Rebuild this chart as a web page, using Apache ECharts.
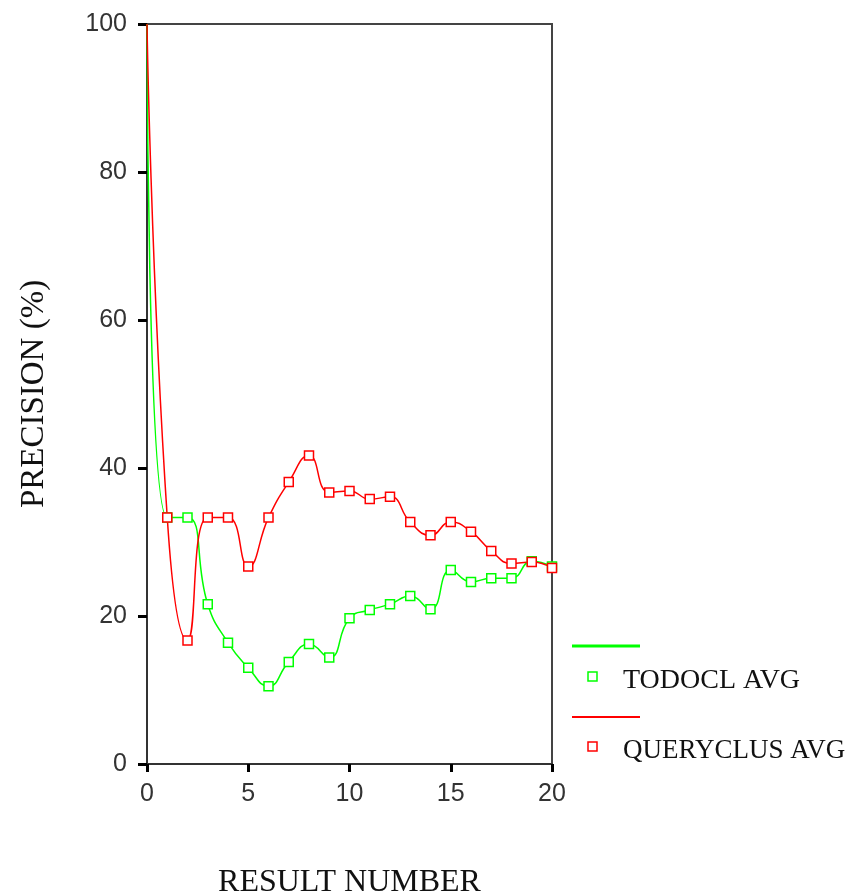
<!DOCTYPE html>
<html>
<head>
<meta charset="utf-8">
<script src="https://cdn.jsdelivr.net/npm/echarts@6/dist/echarts.min.js"></script>
<style>
  html, body { margin: 0; padding: 0; background: #fff; }
  #chart { width: 853px; height: 892px; }
</style>
</head>
<body>
<div id="chart"></div>
<script>
// values
const resultNumber = [0, 1, 2, 3, 4, 5, 6, 7, 8, 9, 10, 11, 12, 13, 14, 15, 16, 17, 18, 19, 20];
const todoclAvg = [100, 33.3, 33.3, 21.6, 16.4, 13.0, 10.5, 13.8, 16.2, 14.4, 19.7, 20.8, 21.6, 22.7, 20.9, 26.2, 24.6, 25.1, 25.1, 27.4, 26.7];
const queryclusAvg = [100, 33.3, 16.7, 33.3, 33.3, 26.7, 33.3, 38.1, 41.7, 36.7, 36.9, 35.8, 36.1, 32.7, 30.9, 32.7, 31.4, 28.8, 27.1, 27.3, 26.5];
const xTicks = [0, 5, 10, 15, 20];
const yTicks = [0, 20, 40, 60, 80, 100];
const seriesNames = ["TODOCL AVG", "QUERYCLUS AVG"];

const GREEN = "#00ff00";
const RED = "#ff0000";
const serif = "'Liberation Serif', 'DejaVu Serif', serif";
const sans = "'Liberation Sans', Arial, sans-serif";

// no marker at result 0 (it sits on the frame corner)
function toPoints(values) {
  return resultNumber.map(function (x, i) {
    if (i === 0) return { value: [x, values[i]], symbol: "none" };
    return [x, values[i]];
  });
}

function lineSeries(name, values, color) {
  return {
    name: name,
    type: "line",
    data: toPoints(values),
    smooth: 0.5,
    symbol: "rect",
    symbolSize: 9,
    lineStyle: { color: color, width: 1.5 },
    itemStyle: { color: "#fff", borderColor: color, borderWidth: 1.5 },
    emphasis: { disabled: true },
  };
}

const chart = echarts.init(document.getElementById("chart"));

const option = {
  animation: false,
  grid: {
    left: 147,
    top: 24,
    width: 405,
    height: 740,
    show: true,
    borderColor: "#444",
    borderWidth: 2,
    outerBoundsMode: "none",
  },
  xAxis: {
    type: "value",
    min: xTicks[0],
    max: xTicks[xTicks.length - 1],
    interval: 5,
    name: "RESULT NUMBER",
    nameLocation: "middle",
    nameGap: 103,
    nameTextStyle: { fontFamily: serif, fontSize: 32, color: "#111" },
    axisLine: { lineStyle: { color: "#333", width: 2 } },
    axisTick: { inside: false, length: 8, lineStyle: { color: "#000", width: 3 } },
    axisLabel: { margin: 18, fontFamily: sans, fontSize: 25, color: "#333" },
    splitLine: { show: false },
  },
  yAxis: {
    type: "value",
    min: yTicks[0],
    max: yTicks[yTicks.length - 1],
    interval: 20,
    name: "PRECISION (%)",
    nameLocation: "middle",
    nameRotate: 90,
    nameGap: 96,
    nameTextStyle: { fontFamily: serif, fontSize: 33, color: "#111" },
    axisLine: { lineStyle: { color: "#333", width: 2 } },
    axisTick: { inside: false, length: 9, lineStyle: { color: "#000", width: 3 } },
    axisLabel: { margin: 20, fontFamily: sans, fontSize: 25, color: "#333" },
    splitLine: { show: false },
  },
  series: [
    lineSeries(seriesNames[0], todoclAvg, GREEN),
    lineSeries(seriesNames[1], queryclusAvg, RED),
  ],
  // legend drawn by hand: line sample above a marker + label
  graphic: [
    { type: "line", shape: { x1: 572, y1: 646, x2: 640, y2: 646 }, style: { stroke: GREEN, lineWidth: 3 } },
    { type: "rect", shape: { x: 588, y: 672, width: 9, height: 9 }, style: { fill: "#fff", stroke: GREEN, lineWidth: 1.5 } },
    { type: "text", left: 623, top: 667, style: { text: seriesNames[0], font: "28px " + serif, fill: "#111" } },
    { type: "line", shape: { x1: 572, y1: 717, x2: 640, y2: 717 }, style: { stroke: RED, lineWidth: 2 } },
    { type: "rect", shape: { x: 588, y: 742, width: 9, height: 9 }, style: { fill: "#fff", stroke: RED, lineWidth: 1.5 } },
    { type: "text", left: 623, top: 737, style: { text: seriesNames[1], font: "27px " + serif, fill: "#111" } },
  ],
};

chart.setOption(option);
</script>
</body>
</html>
